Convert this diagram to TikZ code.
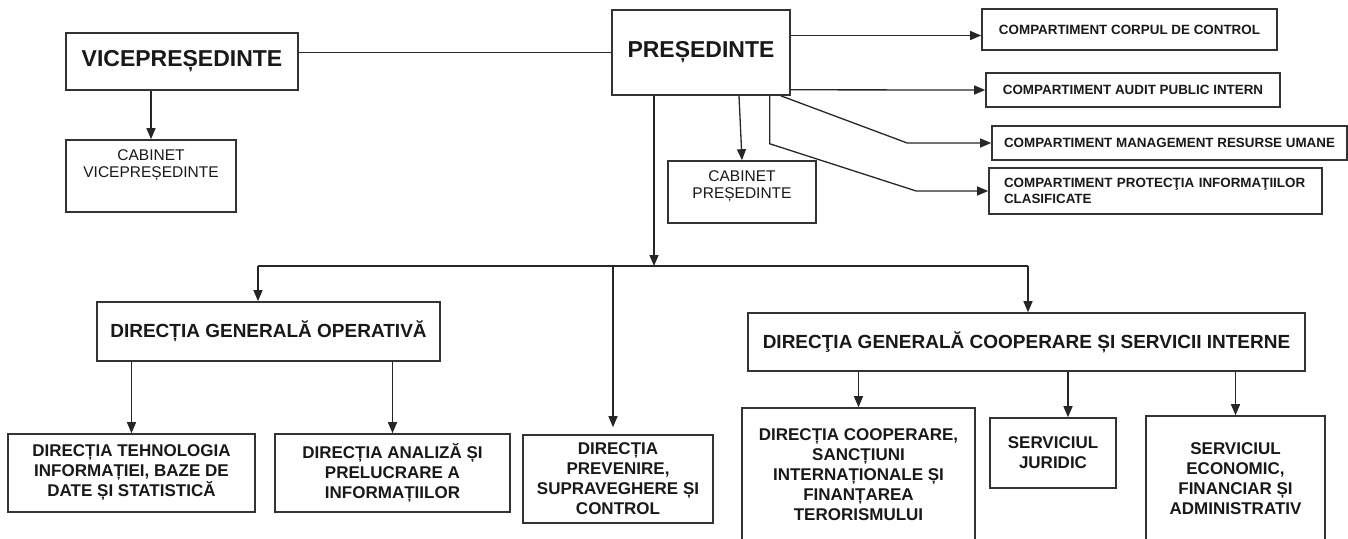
\documentclass[tikz,border=0pt]{standalone}
\usepackage{fontspec}
\setmainfont{Liberation Sans}
\usetikzlibrary{arrows.meta,calc}

\tikzset{
  box/.style={draw=black!80, line width=1.6pt, fill=white, inner sep=0pt, align=center, text=black!90},
  arr/.style={-{Triangle[length=11pt,width=9pt]}},
  big/.style={font=\fontsize{23}{28}\selectfont\bfseries},
  mid/.style={font=\fontsize{19}{23}\selectfont\bfseries},
  low/.style={font=\fontsize{17}{20}\selectfont\bfseries},
  comp/.style={font=\fontsize{13.4}{16}\selectfont\bfseries},
  cab/.style={font=\fontsize{15.5}{17}\selectfont, align=center, text=black!90},
}

\begin{document}
\begin{tikzpicture}[x=1pt, y=-1pt, line width=1.3pt, draw=black!85]
  \useasboundingbox (0,0) rectangle (1348,538);
  \clip (0,0) rectangle (1348,538);
  % top level
  \node[box, big, minimum width=232pt, minimum height=57pt] (vp) at (182,61.5) {VICEPREȘEDINTE};
  \node[box, minimum width=170pt, minimum height=72pt] (cabvp) at (151,176) {};
  \node[cab] (cabvptxt) at (151,165.5) {CABINET\\VICEPREȘEDINTE};
  \node[box, big, minimum width=178pt, minimum height=85pt] (pres) at (701,52.5) {PREȘEDINTE};
  \node[box, minimum width=148pt, minimum height=62pt] (cabpres) at (742,192) {};
  \node[cab] (cabprestxt) at (742,186.5) {CABINET\\PREȘEDINTE};
  % compartimente
  \node[box, comp, minimum width=295pt, minimum height=41pt] (ccc) at (1129.5,29.5) {COMPARTIMENT CORPUL DE CONTROL};
  \node[box, comp, minimum width=294pt, minimum height=34pt] (capi) at (1133,90) {COMPARTIMENT AUDIT PUBLIC INTERN};
  \node[box, comp, minimum width=355pt, minimum height=34pt] (cmru) at (1169.5,143) {COMPARTIMENT MANAGEMENT RESURSE UMANE};
  \node[box, comp, align=left, text width=303pt, inner xsep=15pt, minimum height=46pt] (cpic) at (1155.5,191) {COMPARTIMENT PROTECŢIA INFORMAŢIILOR\\CLASIFICATE};
  % directii
  \node[box, mid, minimum width=343pt, minimum height=59pt] (dgo) at (268.5,331.5) {DIRECȚIA GENERALĂ OPERATIVĂ};
  \node[box, mid, minimum width=557pt, minimum height=58pt] (dgcsi) at (1026.5,342) {DIRECŢIA GENERALĂ COOPERARE ȘI SERVICII INTERNE};
  \node[box, low, minimum width=247pt, minimum height=78pt] (dti) at (131.5,473) {DIRECȚIA TEHNOLOGIA\\INFORMAȚIEI, BAZE DE\\DATE ȘI STATISTICĂ};
  \node[box, low, minimum width=235pt, minimum height=78pt] (dapi) at (392.5,473) {DIRECȚIA ANALIZĂ ȘI\\PRELUCRARE A\\INFORMAȚIILOR};
  \node[box, low, minimum width=190pt, minimum height=88pt] (dpsc) at (618,479) {DIRECȚIA\\PREVENIRE,\\SUPRAVEGHERE ȘI\\CONTROL};
  \node[box, low, minimum width=233pt, minimum height=134pt] (dcsift) at (858.5,475) {DIRECȚIA COOPERARE,\\SANCȚIUNI\\INTERNAȚIONALE ȘI\\FINANȚAREA\\TERORISMULUI};
  \node[box, low, minimum width=126pt, minimum height=70pt] (sj) at (1053,453) {SERVICIUL\\JURIDIC};
  \node[box, low, minimum width=179pt, minimum height=126pt] (sefa) at (1235.5,479) {SERVICIUL\\ECONOMIC,\\FINANCIAR ȘI\\ADMINISTRATIV};

  % connectors from the top
  \draw (vp.east |- pres.west) -- (pres.west);
  \draw[arr] (vp.south -| cabvp.north) -- (cabvp.north);
  \draw[arr] ($(pres.east |- ccc.west)+(0,6)$) -- ($(ccc.west)+(0,6)$);
  \draw[arr] ($(pres.south east)+(0,-6)$) -- (capi.west);
  \draw[arr] ($(pres.south east)+(-10,0)$) -- ($(cmru.west)+(-84,0)$) -- (cmru.west);
  \draw[arr] ($(pres.south east)+(-21,0)$) -- ++(0,48) -- ($(cpic.west)+(-72,0)$) -- (cpic.west);
  \draw[arr] ($(pres.south)+(38,0)$) -- (cabpres.north);
  % bus line
  \coordinate (busl) at (258,266);
  \coordinate (busr) at (1028,266);
  \coordinate (pdown) at ($(pres.south)+(-47,0)$);
  \draw[arr] (pdown) -- (pdown |- busl);
  \draw (busl) -- (busr);
  \draw[arr] (busl) -- (busl |- dgo.north);
  \draw[arr] (busr) -- (busr |- dgcsi.north);
  \coordinate (dpscin) at ($(dpsc.north)+(-5,0)$);
  \draw[arr, shorten >=7pt] (busl -| dpscin) -- (dpscin);
  % subordinates
  \draw[arr] (dgo.south -| dti.north) -- (dti.north);
  \draw[arr] (dgo.south -| dapi.north) -- (dapi.north);
  \coordinate (sjin) at ($(sj.north)+(15,0)$);
  \draw[arr] (dgcsi.south -| dcsift.north) -- (dcsift.north);
  \draw[arr] (dgcsi.south -| sjin) -- (sjin);
  \draw[arr] (dgcsi.south -| sefa.north) -- (sefa.north);
\end{tikzpicture}
\end{document}
